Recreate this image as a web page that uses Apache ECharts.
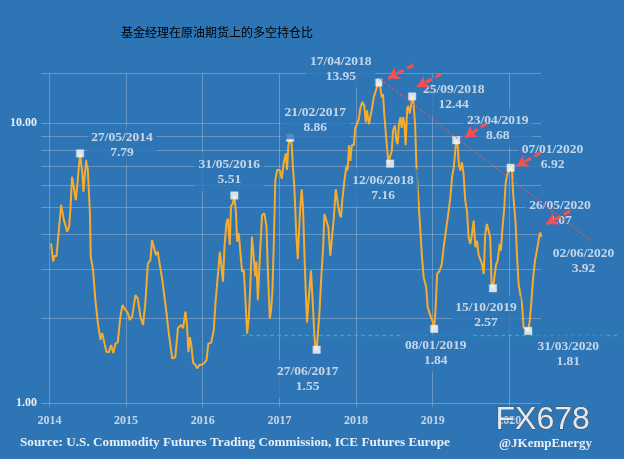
<!DOCTYPE html>
<html><head><meta charset="utf-8">
<script src="https://cdn.jsdelivr.net/npm/echarts@6/dist/echarts.min.js"></script>
<style>html,body{margin:0;padding:0;background:#2e75b6}#c{width:624px;height:459px}</style>
</head><body><div id="c"></div>
<script>
// ---------- DATA ----------
const dates = [
'2014-01-09','2014-01-19','2014-01-25','2014-02-04','2014-02-15','2014-02-26','2014-03-04','2014-03-11','2014-03-27','2014-04-05',
'2014-04-11','2014-04-19','2014-04-27','2014-05-07','2014-05-16','2014-05-27','2014-06-07','2014-06-12','2014-06-19','2014-06-26',
'2014-07-03','2014-07-13','2014-07-17','2014-07-28','2014-08-08','2014-08-20','2014-09-01','2014-09-09','2014-09-17','2014-09-30',
'2014-10-11','2014-10-22','2014-11-01','2014-11-12','2014-11-23','2014-12-05','2014-12-15','2014-12-29',
'2015-01-09','2015-01-19','2015-01-30','2015-02-15','2015-02-26','2015-03-11','2015-03-23','2015-04-03','2015-04-15','2015-04-27',
'2015-05-05','2015-05-13','2015-05-23','2015-06-01','2015-06-11','2015-06-23','2015-07-03','2015-07-12','2015-07-24','2015-08-09',
'2015-08-24','2015-09-05','2015-09-14','2015-09-20','2015-09-30','2015-10-11','2015-10-19','2015-10-25','2015-11-01','2015-11-07',
'2015-11-17','2015-11-27','2015-12-06','2015-12-18','2015-12-29',
'2016-01-09','2016-01-19','2016-01-28','2016-02-10','2016-02-23','2016-03-02','2016-03-13','2016-03-23','2016-03-29','2016-04-07',
'2016-04-14','2016-04-23','2016-04-30','2016-05-09','2016-05-15','2016-05-24','2016-05-31','2016-06-08','2016-06-13','2016-06-21',
'2016-06-29','2016-07-07','2016-07-15','2016-07-23','2016-07-31','2016-08-08','2016-08-15','2016-08-23','2016-09-01','2016-09-08',
'2016-09-13','2016-09-20','2016-09-26','2016-10-02','2016-10-10','2016-10-21','2016-10-31','2016-11-06','2016-11-16','2016-11-22',
'2016-11-28','2016-12-05','2016-12-12','2016-12-21','2017-01-02',
'2017-01-12','2017-01-21','2017-01-31','2017-02-06','2017-02-12','2017-02-21','2017-02-28','2017-03-07','2017-03-13','2017-03-22',
'2017-03-29','2017-04-08','2017-04-17','2017-04-23','2017-05-03','2017-05-12','2017-05-22','2017-05-31','2017-06-08','2017-06-15',
'2017-06-20','2017-06-27','2017-07-10','2017-07-18','2017-07-28','2017-08-03','2017-08-12','2017-08-22','2017-08-31','2017-09-07',
'2017-09-17','2017-09-26','2017-10-06','2017-10-15','2017-10-21','2017-10-27','2017-11-06','2017-11-16','2017-11-22','2017-11-28',
'2017-12-05','2017-12-11','2017-12-21','2017-12-28','2018-01-05',
'2018-01-14','2018-01-21','2018-01-31','2018-02-09','2018-02-16','2018-02-22','2018-03-03','2018-03-10','2018-03-18','2018-03-26',
'2018-04-03','2018-04-11','2018-04-17','2018-04-26','2018-05-03','2018-05-09','2018-05-15','2018-05-22','2018-05-28','2018-06-04',
'2018-06-12','2018-06-20','2018-06-26','2018-07-05','2018-07-12','2018-07-18','2018-07-24','2018-07-31','2018-08-06','2018-08-13',
'2018-08-19','2018-08-25','2018-09-01','2018-09-07','2018-09-13','2018-09-20','2018-09-25','2018-10-02','2018-10-09','2018-10-16',
'2018-10-26','2018-11-03','2018-11-11','2018-11-19','2018-12-01','2018-12-08','2018-12-18','2018-12-24','2019-01-02','2019-01-08',
'2019-01-15','2019-01-22','2019-02-03','2019-02-13','2019-02-22','2019-03-07','2019-03-17','2019-03-26','2019-04-03','2019-04-11',
'2019-04-23','2019-04-30','2019-05-05','2019-05-12','2019-05-20','2019-05-28','2019-06-05','2019-06-13','2019-06-21','2019-06-29',
'2019-07-07','2019-07-15','2019-07-23','2019-07-31','2019-08-08','2019-08-15','2019-08-24','2019-09-01','2019-09-08','2019-09-16',
'2019-09-24','2019-10-02','2019-10-08','2019-10-15','2019-10-22','2019-10-30','2019-11-06','2019-11-16','2019-11-22','2019-11-28',
'2019-12-08','2019-12-14','2019-12-21','2019-12-30','2020-01-07',
'2020-01-14','2020-01-18','2020-01-24','2020-01-31','2020-02-06','2020-02-14','2020-02-22','2020-03-01','2020-03-09','2020-03-19',
'2020-03-31','2020-04-07','2020-04-13','2020-04-22','2020-05-02','2020-05-11','2020-05-19','2020-05-26','2020-06-02'
];
const ratios = [
3.72,3.2,3.35,3.35,4.15,5.1,5.15,4.5,4.09,4.27,
4.9,6.43,6.5,5.3,6.25,7.79,6.6,5.69,6.6,7.38,
6.8,4.76,3.33,2.99,2.33,1.93,1.68,1.78,1.76,1.52,
1.52,1.61,1.51,1.63,1.65,2.03,2.24,2.15,
2.1,1.98,2.03,2.43,2.36,2.03,1.9,2.27,3.15,3.24,
3.82,3.87,3.38,3.47,3.11,2.75,2.4,2.12,1.77,1.44,
1.46,1.85,1.87,1.9,1.85,2.12,1.87,1.52,1.72,1.63,
1.39,1.37,1.33,1.37,1.37,
1.39,1.42,1.63,1.64,1.82,2.27,2.83,3.47,3.15,2.71,
3.62,4.38,4.56,3.67,5.03,5.17,5.51,4.76,3.77,4.04,
3.43,2.94,2.99,2.33,1.77,2.03,2.6,3.93,3.97,2.83,
3.2,2.33,2.36,3.62,4.69,4.76,4.27,3.07,2.0,2.15,
2.47,3.72,6.25,6.8,6.8,
6.33,7.18,7.8,6.8,8.3,8.86,8.4,6.77,5.9,4.01,
3.27,4.73,5.8,5.0,2.89,1.94,2.45,2.97,2.32,1.81,
1.6,1.55,2.08,2.73,3.6,4.73,4.8,4.24,3.36,3.8,
4.6,5.8,5.15,4.73,4.6,5.28,6.2,7.04,6.77,8.33,
7.32,8.33,8.33,9.6,9.9,
10.3,11.3,11.9,11.5,10.06,11.1,9.9,10.06,11.3,12.35,
12.9,12.9,13.95,13.4,12.35,12.7,10.8,9.27,8.2,7.24,
7.16,7.96,9.4,9.8,8.63,8.4,9.9,10.5,9.6,10.5,
9.9,8.33,11.3,11.5,10.8,11.5,12.44,11.7,9.9,6.77,
5.15,4.12,3.31,2.81,2.59,2.2,2.08,2.11,1.94,1.84,
2.2,2.89,2.97,3.13,3.6,4.24,4.8,5.43,6.4,6.93,
8.68,8.33,7.16,6.77,7.24,6.57,5.28,4.86,3.9,3.7,
4.01,4.48,3.6,3.8,3.36,3.27,3.13,2.89,4.01,4.36,
4.3,3.9,2.7,2.57,2.55,3.13,3.22,3.7,3.5,4.12,
5.0,6.06,6.5,6.77,6.92,
6.77,5.74,5.65,4.36,3.4,2.66,2.66,2.26,1.86,1.84,
1.81,1.97,2.2,2.73,3.22,3.5,3.8,4.07,3.92
];
// annotated highs / lows (white square markers)
const markDates  = ['2014-05-27','2016-05-31','2017-02-21','2017-06-27','2018-04-17','2018-06-12','2018-09-25','2019-01-08','2019-04-23','2019-10-15','2020-01-07','2020-03-31'];
const markValues = [7.79,5.51,8.86,1.55,13.95,7.16,12.44,1.84,8.68,2.57,6.92,1.81];
// annotated latest readings (no marker)
const noteDates  = ['2020-05-26','2020-06-02'];
const noteValues = [4.07,3.92];
// axis ticks / gridlines
const yearTicks = ['2014','2015','2016','2017','2018','2019','2020'];
const gridValues = [1,2,3,4,5,6,7,8,9,10,15];
const refLevel = 1.75;   // green dashed reference level

// ---------- STYLE / LAYOUT ----------
const BG = '#2e75b6', GRIDC = 'rgba(205,212,222,0.36)', TXT = '#e8eef6';
const SERIF = '"Liberation Serif","Times New Roman",serif';
const RED = '#ff4d4d';
const Y_MIN = 0.967, Y_MAX = 25, Y_TOP = 15;
const X_MIN = '2013-11-22', X_MAX = '2021-06-11', X_GRID_END = '2020-05-31';
const markOffsets = [[42,-8],[-5,-23.5],[25,-17.5],[-9,29],[-37.5,-14],[-7,24],[41.5,0.5],[1.5,24.5],[41.5,-12.5],[-7,27],[42,-11],[40,23.5]];
const noteOffsets = [[20,-19],[42,24]];

const fmtDate = d => { const p = d.split('-'); return p[2] + '/' + p[1] + '/' + p[0]; };
const fmtLabel = p => fmtDate(p.value[0]) + '\n' + p.value[1].toFixed(2);
const labelBase = {
  show: true, position: 'inside', color: TXT, fontFamily: SERIF, fontWeight: 'bold',
  fontSize: 13.5, lineHeight: 15, align: 'center', verticalAlign: 'middle',
  backgroundColor: BG, padding: [4, 4], formatter: fmtLabel
};

const gridLines = [];
gridValues.forEach(v => gridLines.push([{coord: [X_MIN, v]}, {coord: [X_GRID_END, v]}]));
yearTicks.forEach(y => gridLines.push([{coord: [y + '-01-01', Y_MIN]}, {coord: [y + '-01-01', Y_TOP]}]));

const arrows = [
  [['2018-09-30',16.1],['2018-06-03',14.44]],
  [['2019-02-12',14.96],['2018-10-19',13.48]],
  [['2019-09-15',9.97],['2019-06-04',8.89]],
  [['2020-05-29',7.83],['2020-02-05',7.02]],
  [['2020-10-16',4.85],['2020-06-26',4.36]]
];
const redLines = [];
arrows.forEach(a => redLines.push([
  {coord: a[0], symbol: 'none', lineStyle: {color: RED, width: 3, type: [7, 4]}},
  {coord: a[1], symbol: 'arrow', symbolSize: [10, 11]}
]));
redLines.push([{coord: ['2018-04-25', 14.36], lineStyle: {color: RED, width: 1, type: [3, 2]}}, {coord: ['2021-01-27', 3.79]}]);
const refLines = [[{coord: ['2016-07-07', refLevel]}, {coord: ['2021-06-10', refLevel]}]];

const option = {
  backgroundColor: BG,
  animation: false,
  title: {
    text: '基金经理在原油期货上的多空持仓比', left: 116, top: 21,
    textStyle: {color: '#000', fontFamily: '"Noto Sans CJK SC"', fontWeight: 'normal', fontSize: 12}
  },
  grid: {left: 41, right: 4, top: 11.6, bottom: 51.9},
  xAxis: {type: 'time', min: X_MIN, max: X_MAX, show: false},
  yAxis: {
    type: 'log', logBase: 10, min: Y_MIN, max: Y_MAX,
    axisLine: {show: false}, axisTick: {show: false}, splitLine: {show: false},
    axisLabel: {
      margin: 4, color: TXT, fontFamily: SERIF, fontWeight: 'bold', fontSize: 12,
      formatter: v => { const l = Math.log10(v); return Math.abs(l - Math.round(l)) < 1e-6 ? v.toFixed(2) : ''; }
    }
  },
  series: [
    { type: 'line', data: [], silent: true, z: 1,
      markLine: { z: 1, silent: true, symbol: ['none', 'none'], label: {show: false},
        lineStyle: {color: GRIDC, width: 1, type: 'solid'}, emphasis: {disabled: true}, data: gridLines } },
    { type: 'line', data: [], silent: true, z: 2,
      markLine: { z: 2, silent: true, symbol: ['none', 'none'], label: {show: false},
        lineStyle: {color: '#14c48f', width: 1.3, type: [4, 3]}, emphasis: {disabled: true}, data: refLines } },
    { type: 'scatter', z: 2, silent: true, symbolSize: 1, itemStyle: {color: 'rgba(0,0,0,0)'},
      data: yearTicks.map(y => [y + '-01-01', Y_MIN]),
      label: {show: true, position: 'bottom', distance: 7, color: TXT, fontFamily: SERIF, fontWeight: 'bold', fontSize: 12,
        formatter: p => p.value[0].slice(0, 4)} },
    { type: 'line', z: 3, silent: true, showSymbol: false, symbol: 'none',
      lineStyle: {color: '#f7ac2c', width: 2}, data: dates.map((d, i) => [d, ratios[i]]) },
    { type: 'scatter', z: 5, silent: true, symbol: 'rect', symbolSize: 7.5,
      itemStyle: {color: '#ffffff', borderColor: '#dddddd', borderWidth: 0.5},
      data: markDates.map((d, i) => ({value: [d, markValues[i]], label: Object.assign({}, labelBase, {offset: markOffsets[i]})})),
      label: labelBase },
    { type: 'scatter', z: 5, silent: true, symbolSize: 1, itemStyle: {color: 'rgba(0,0,0,0)'},
      data: noteDates.map((d, i) => ({value: [d, noteValues[i]], label: Object.assign({}, labelBase, {offset: noteOffsets[i]})})),
      label: labelBase },
    { type: 'line', data: [], silent: true, z: 20,
      markLine: { z: 20, silent: true, symbol: ['none', 'none'], label: {show: false}, emphasis: {disabled: true}, data: redLines } }
  ],
  graphic: [
    {type: 'text', left: 20, top: 436, z: 20, silent: true,
      style: {text: 'Source: U.S. Commodity Futures Trading Commission, ICE Futures Europe', fill: TXT,
        font: 'bold 13.2px ' + SERIF}},
    {type: 'text', left: 499, top: 437, z: 20, silent: true,
      style: {text: '@JKempEnergy', fill: TXT, font: 'bold 13px ' + SERIF}},
    {type: 'text', left: 495, top: 404, z: 30, silent: true,
      style: {text: 'FX678', fill: '#e3e9f1', stroke: '#4d4d4d', lineWidth: 1, font: '32px "Liberation Sans"'}}
  ]
};

const chart = echarts.init(document.getElementById('c'), null, {renderer: 'canvas', width: 624, height: 459});
chart.setOption(option);
</script>
</body></html>
